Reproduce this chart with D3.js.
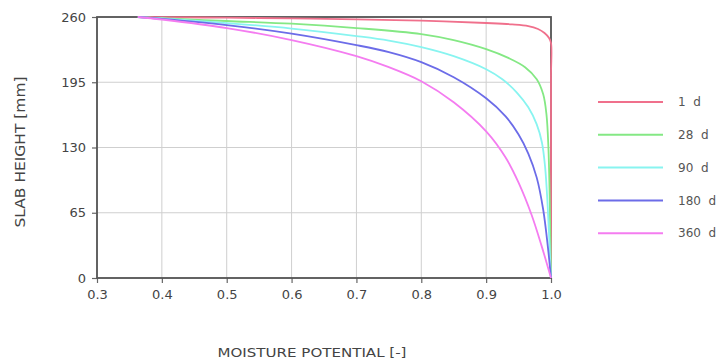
<!DOCTYPE html>
<html>
<head>
<meta charset="utf-8">
<script src="https://cdn.jsdelivr.net/npm/d3@7"></script>
<style>
  body { margin: 0; background: #fff; }
  text { font-family: "DejaVu Sans", sans-serif; fill: #444; }
</style>
</head>
<body>
<svg id="chart" width="725" height="363"></svg>
<script>
// tick values
const xTicks = [0.3, 0.4, 0.5, 0.6, 0.7, 0.8, 0.9, 1.0];
const yTicks = [0, 65, 130, 195, 260];

// series: [moisture potential, slab height mm]
const seriesNames = ['1 d', '28 d', '90 d', '180 d', '360 d'];
const seriesColors = ['#f0708c', '#84e884', '#88f4f0', '#6c6ce8', '#f47cf0'];

const day1 = [[0.363, 260], [0.4, 259.8], [0.5, 259.3], [0.6, 258.6], [0.7, 257.6], [0.8, 256.3], [0.9, 254],
  [0.94, 252.7], [0.965, 251], [0.98, 248], [0.99, 244], [0.997, 239], [1.0, 234], [1.0, 200], [1.0, 0]];
const day28 = [[0.363, 260], [0.4, 258.8], [0.5, 256], [0.6, 253.3], [0.7, 249], [0.8, 243], [0.85, 237],
  [0.9, 228], [0.935, 219], [0.96, 210], [0.978, 198], [0.988, 183], [0.993, 163], [0.996, 130],
  [0.998, 80], [1.0, 0]];
const day90 = [[0.363, 260], [0.4, 258.5], [0.5, 254], [0.6, 248.5], [0.7, 241], [0.75, 236.5], [0.8, 230],
  [0.85, 221], [0.9, 208], [0.925, 198], [0.947, 185], [0.965, 170], [0.978, 153], [0.986, 135],
  [0.991, 110], [0.995, 70], [1.0, 0]];
const day180 = [[0.363, 260], [0.4, 258.2], [0.5, 252], [0.6, 243.5], [0.7, 232], [0.75, 225], [0.8, 215],
  [0.85, 200], [0.9, 179], [0.93, 161], [0.95, 143], [0.965, 124], [0.978, 100], [0.988, 68],
  [0.995, 32], [1.0, 0]];
const day360 = [[0.363, 260], [0.4, 257.5], [0.5, 249], [0.6, 237], [0.7, 221], [0.75, 210], [0.8, 196],
  [0.85, 175], [0.9, 146], [0.93, 120], [0.95, 95], [0.97, 63], [0.985, 33], [1.0, 0]];
const seriesData = [day1, day28, day90, day180, day360];

const margin = { left: 97, right: 174, top: 17, bottom: 85 };
const W = 725, H = 363;
const svg = d3.select('#chart');

const x = d3.scaleLinear().domain([0.3, 1.0]).range([margin.left, W - margin.right]);
const y = d3.scaleLinear().domain([0, 260]).range([H - margin.bottom, margin.top]);

// grid
const grid = svg.append('g');
grid.selectAll('line.gx').data(xTicks).enter().append('line')
  .attr('x1', d => x(d)).attr('x2', d => x(d))
  .attr('y1', y(0)).attr('y2', y(260))
  .attr('stroke', '#cfcfcf').attr('stroke-width', 1);
grid.selectAll('line.gy').data(yTicks).enter().append('line')
  .attr('y1', d => y(d)).attr('y2', d => y(d))
  .attr('x1', x(0.3)).attr('x2', x(1.0))
  .attr('stroke', '#cfcfcf').attr('stroke-width', 1);

// axes
const xAxis = svg.append('g')
  .attr('transform', `translate(0,${y(0)})`)
  .call(d3.axisBottom(x).tickValues(xTicks).tickFormat(d3.format('.1f')).tickSize(5).tickPadding(7));
const yAxis = svg.append('g')
  .attr('transform', `translate(${x(0.3)},0)`)
  .call(d3.axisLeft(y).tickValues(yTicks).tickSize(5).tickPadding(6));
[xAxis, yAxis].forEach(a => {
  a.select('.domain').remove();
  a.selectAll('line').attr('stroke', '#666').attr('stroke-width', 1.2);
  a.selectAll('text').style('font-size', '13px').style('fill', '#444')
    .style('font-family', '"DejaVu Sans", sans-serif');
});

// frame
svg.append('rect')
  .attr('x', x(0.3)).attr('y', y(260))
  .attr('width', x(1.0) - x(0.3)).attr('height', y(0) - y(260))
  .attr('fill', 'none').attr('stroke', '#555').attr('stroke-width', 1.8);

// curves
const line = d3.line()
  .x(d => x(d[0]))
  .y(d => y(d[1]))
  .curve(d3.curveCatmullRom.alpha(0.5));

svg.append('g').selectAll('path')
  .data(seriesData)
  .enter()
  .append('path')
  .attr('d', d => line(d))
  .attr('fill', 'none')
  .attr('stroke', (d, i) => seriesColors[i])
  .attr('stroke-width', 1.8);

// legend
const legend = svg.append('g').attr('transform', 'translate(598,102)');
const rows = legend.selectAll('g').data(seriesNames).enter().append('g')
  .attr('transform', (d, i) => `translate(0,${i * 32.8})`);
rows.append('line')
  .attr('x1', 0).attr('x2', 65)
  .attr('stroke', (d, i) => seriesColors[i]).attr('stroke-width', 2);
rows.append('text')
  .attr('x', 80).attr('dy', '0.35em')
  .style('font-size', '12px').style('fill', '#555')
  .attr('xml:space', 'preserve')
  .text(d => d.replace(' ', '  '));

// axis titles
svg.append('text')
  .attr('x', 312).attr('y', 357)
  .attr('text-anchor', 'middle')
  .attr('textLength', 189)
  .attr('lengthAdjust', 'spacingAndGlyphs')
  .style('font-size', '13px').style('fill', '#444')
  .text('MOISTURE POTENTIAL [-]');
svg.append('text')
  .attr('transform', 'translate(25,152) rotate(-90)')
  .attr('text-anchor', 'middle')
  .attr('textLength', 151)
  .attr('lengthAdjust', 'spacingAndGlyphs')
  .style('font-size', '14px').style('fill', '#444')
  .text('SLAB HEIGHT [mm]');
</script>
</body>
</html>
